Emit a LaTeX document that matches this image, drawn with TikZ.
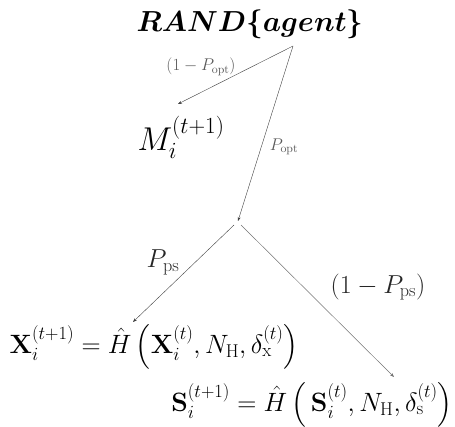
\RequirePackage{fix-cm}
\documentclass[tikz,border=0pt]{standalone}
\usepackage{amsmath}
\usepackage{bm}
\usetikzlibrary{arrows.meta}
\begin{document}
\begin{tikzpicture}[x=1pt,y=-1pt,
  conn/.style={draw=black!75,line width=0.4pt,-{Stealth[length=4pt,width=3pt]}},
  connlight/.style={draw=black!55,line width=0.5pt,-{Stealth[length=4pt,width=3pt]}},
  lblsmall/.style={font=\fontsize{17}{20}\selectfont,text=black!65,inner sep=1pt},
  lblbig/.style={font=\fontsize{26}{30}\selectfont,text=black!85,inner sep=1pt},
  eq/.style={font=\fontsize{26.5}{30}\selectfont,inner sep=0pt}]
\useasboundingbox (0,0) rectangle (455,427);
\node[font=\fontsize{29}{32}\selectfont,inner sep=0pt] (title) at (250,24) {$\bm{RAND\{agent\}}$};
\node[font=\fontsize{33}{36}\selectfont,inner sep=0pt,anchor=base] (m) at (181,151) {$M_i^{(t+1)}$};
\coordinate (o) at (293,46);
\coordinate (mend) at (178,104);
\coordinate (sp) at (238,221);
\coordinate (spl) at (234,225);
\coordinate (spr) at (241,225);
\node[eq] (x) at (154,347) {$\mathbf{X}_i^{(t+1)} = \hat{H}\left(\mathbf{X}_i^{(t)}, N_{\mathrm{H}}, \delta_{\mathrm{x}}^{(t)}\right)$};
\node[eq] (s) at (312,405) {$\mathbf{S}_i^{(t+1)} = \hat{H}\left(\,\mathbf{S}_i^{(t)}, N_{\mathrm{H}}, \delta_{\mathrm{s}}^{(t)}\right)$};
\coordinate (xend) at (133,322);
\coordinate (send) at (394,377);
\draw[conn] (o) -- (mend);
\draw[conn] (o) -- (sp);
\draw[conn] (spl) -- (xend);
\draw[connlight] (spr) -- (send);
\node[lblsmall] (l1) at (201,67) {$(1-P_{\mathrm{opt}})$};
\node[lblsmall] (l2) at (284,147) {$P_{\mathrm{opt}}$};
\node[lblbig] (l3) at (163,262) {$P_{\mathrm{ps}}$};
\node[lblbig] (l4) at (378,287) {$(1-P_{\mathrm{ps}})$};
\end{tikzpicture}
\end{document}
